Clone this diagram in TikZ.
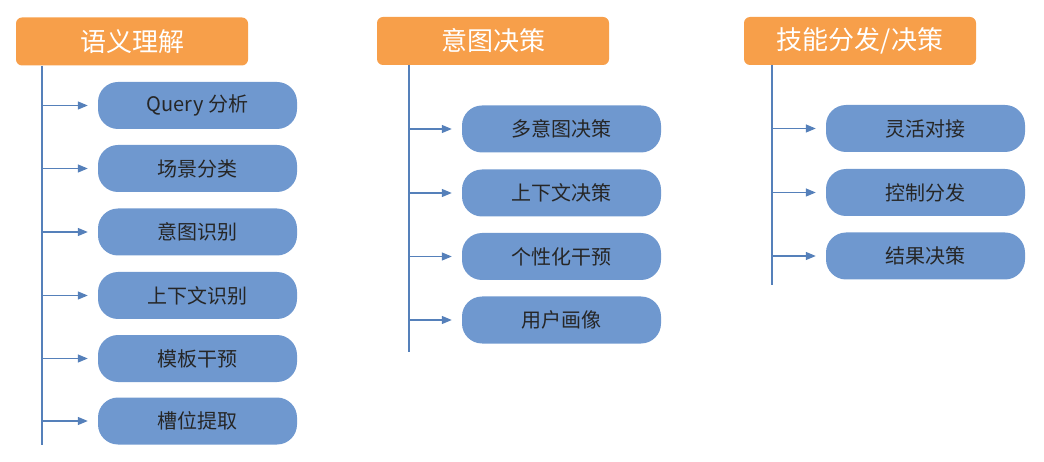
\documentclass[tikz,border=0pt]{standalone}
\usepackage{fontspec}
\setmainfont{Noto Sans CJK SC}
\usepackage{xcolor}
\usetikzlibrary{arrows.meta, positioning}
\definecolor{hdorange}{HTML}{F79F4A}
\definecolor{itblue}{HTML}{6F98CF}
\definecolor{lnblue}{HTML}{5580BA}
\begin{document}
\begin{tikzpicture}[x=1pt, y=-1pt,
  hd/.style={rectangle, rounded corners=6pt, fill=hdorange, text=white,
             minimum width=232pt, minimum height=48pt, inner sep=0pt,
             font=\fontsize{26}{28}\selectfont},
  item/.style={rectangle, rounded corners=20pt, fill=itblue, text=black!85,
               minimum width=199pt, minimum height=47pt, inner sep=0pt,
               font=\fontsize{20}{22}\selectfont},
  trunk/.style={lnblue, line width=1.3pt},
  br/.style={-{Triangle[length=10pt,width=8pt]}, lnblue, line width=1.3pt,
             shorten >=10pt}
]
\useasboundingbox (0,0) rectangle (1044,462);
%% Column 1
\node[hd] (h1) at (132,41.5) {语义理解};
\node[item] (qa)  at (197.5,105.5) {Query 分析};
\node[item] (cj)  at (197.5,168.5) {场景分类};
\node[item] (yt)  at (197.5,232)   {意图识别};
\node[item] (sx)  at (197.5,295.5) {上下文识别};
\node[item] (mb)  at (197.5,358.5) {模板干预};
\node[item] (cw)  at (197.5,421)   {槽位提取};
\coordinate (t1) at (42,66);
\coordinate (e1) at (42,445);
\draw[trunk] (t1)--(e1);
\draw[br] (t1 |- qa)--(qa.west); \draw[br] (t1 |- cj)--(cj.west);
\draw[br] (t1 |- yt)--(yt.west); \draw[br] (t1 |- sx)--(sx.west);
\draw[br] (t1 |- mb)--(mb.west); \draw[br] (t1 |- cw)--(cw.west);
%% Column 2
\node[hd] (h2) at (493,41) {意图决策};
\node[item] (dyt) at (561.5,129) {多意图决策};
\node[item] (sxj) at (561.5,193) {上下文决策};
\node[item] (gxh) at (561.5,256.5) {个性化干预};
\node[item] (yhx) at (561.5,320) {用户画像};
\coordinate (t2) at (409,65);
\coordinate (e2) at (409,352);
\draw[trunk] (t2)--(e2);
\draw[br] (t2 |- dyt)--(dyt.west); \draw[br] (t2 |- sxj)--(sxj.west);
\draw[br] (t2 |- gxh)--(gxh.west); \draw[br] (t2 |- yhx)--(yhx.west);
%% Column 3
\node[hd] (h3) at (860,41) {技能分发/决策};
\node[item] (lh) at (925.5,128.5) {灵活对接};
\node[item] (kz) at (925.5,192.5) {控制分发};
\node[item] (jg) at (925.5,256)   {结果决策};
\coordinate (t3) at (772,65);
\coordinate (e3) at (772,285);
\draw[trunk] (t3)--(e3);
\draw[br] (t3 |- lh)--(lh.west); \draw[br] (t3 |- kz)--(kz.west);
\draw[br] (t3 |- jg)--(jg.west);
\end{tikzpicture}
\end{document}
